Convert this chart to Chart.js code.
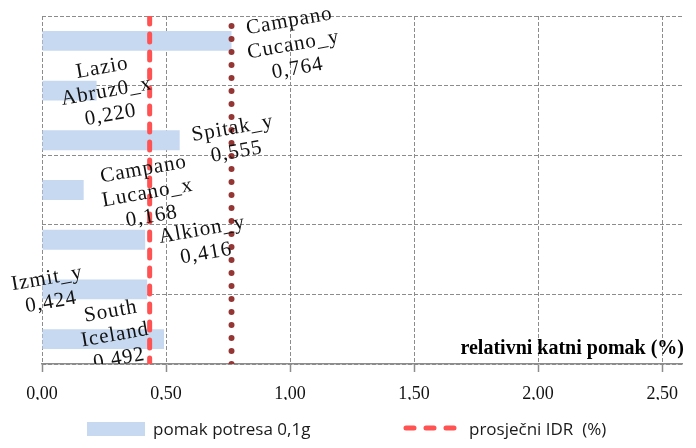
<!DOCTYPE html>
<html>
<head>
<meta charset="utf-8">
<script src="https://cdn.jsdelivr.net/npm/chart.js@4"></script>
<style>
  body { margin: 0; background: #fff; }
  #wrap { position: relative; width: 696px; height: 448px; }
  #chart { position: absolute; left: 0; top: 0; }
  .leg { position: absolute; font-family: "Open Sans", sans-serif; font-size: 17px; color: #1a1a1a; line-height: 20px; }
</style>
</head>
<body>
<div id="wrap">
  <canvas id="chart" width="696" height="448"></canvas>
  <div class="leg" style="left:87px; top:422px; width:58px; height:14px; background:#C6D9F1;"></div>
  <div class="leg" style="left:153px; top:419px;">pomak potresa 0,1g</div>
  <svg class="leg" style="left:403px; top:423px;" width="56" height="10">
    <line x1="3" y1="5" x2="53" y2="5" stroke="#FF5252" stroke-width="5" stroke-linecap="round" stroke-dasharray="8 12"></line>
  </svg>
  <div class="leg" style="left:469px; top:419px;">prosječni IDR&nbsp; (%)</div>
</div>
<script>
// ---------- DATA ----------
const categories = ["Campano Cucano_y", "Lazio Abruz0_x", "Spitak_y", "Campano Lucano_x", "Alkion_y", "Izmit_y", "South Iceland"];
const labelLines = [["Campano", "Cucano_y"], ["Lazio", "Abruz0_x"], ["Spitak_y"], ["Campano", "Lucano_x"], ["Alkion_y"], ["Izmit_y"], ["South", "Iceland"]];
const pomakValues = [0.764, 0.220, 0.555, 0.168, 0.416, 0.424, 0.492];
const prosjecniIDR = 0.434;
const maxPomak = 0.764;
const xMax = 2.58;
const axisTitle = "relativni katni pomak (%)";

// label block offsets from bar end (px), layout only
const labelOffsets = [[62, 4], [10, 1], [55, 0], [64, 3], [59, 2], [-98, 1], [-49, -4]];

const fmt = (v, d) => v.toFixed(d).replace(".", ",");
const serif = '"Liberation Serif", "Times New Roman", serif';

// ---------- LABELS + AXIS TITLE ----------
const labelPlugin = {
  id: "barLabels",
  afterDatasetsDraw(chart) {
    const ctx = chart.ctx;
    const xs = chart.scales.x, ys = chart.scales.y;
    const area = chart.chartArea;
    ctx.save();
    ctx.beginPath();
    ctx.rect(0, 0, chart.width, area.bottom);
    ctx.clip();
    ctx.font = "21px " + serif;
    ctx.letterSpacing = "1px";
    ctx.fillStyle = "#111";
    ctx.textAlign = "center";
    ctx.textBaseline = "middle";
    pomakValues.forEach((v, i) => {
      const lines = labelLines[i].concat([fmt(v, 3)]);
      const cx = xs.getPixelForValue(v) + labelOffsets[i][0];
      const cy = ys.getPixelForValue(i) + labelOffsets[i][1];
      ctx.save();
      ctx.translate(cx, cy);
      ctx.rotate(-10 * Math.PI / 180);
      const lh = 24;
      lines.forEach((t, k) => {
        ctx.fillText(t, 0, (k - (lines.length - 1) / 2) * lh);
      });
      ctx.restore();
    });
    ctx.restore();

    ctx.save();
    ctx.font = "bold 20px " + serif;
    ctx.fillStyle = "#000";
    ctx.textAlign = "right";
    ctx.textBaseline = "alphabetic";
    ctx.fillText(axisTitle, 684, area.bottom - 10);
    ctx.restore();
  }
};

const gridColor = "#8c8c8c";

new Chart(document.getElementById("chart"), {
  data: {
    labels: categories,
    datasets: [
      {
        type: "bar",
        label: "pomak potresa 0,1g",
        data: pomakValues,
        indexAxis: "y",
        xAxisID: "x",
        yAxisID: "y",
        backgroundColor: "#C6D9F1",
        barPercentage: 0.8,
        categoryPercentage: 0.5,
        order: 3
      },
      {
        type: "line",
        label: "prosječni IDR (%)",
        data: [{ x: prosjecniIDR, y: 5 }, { x: prosjecniIDR, y: 0 }],
        xAxisID: "x",
        yAxisID: "y2",
        borderColor: "#FF5252",
        borderWidth: 5,
        borderDash: [8, 10],
        borderCapStyle: "round",
        pointRadius: 0,
        fill: false,
        order: 1
      },
      {
        type: "line",
        label: "max",
        data: [{ x: maxPomak, y: 0 }, { x: maxPomak, y: 5 }],
        xAxisID: "x",
        yAxisID: "y2",
        borderColor: "#943634",
        borderWidth: 6,
        borderDash: [0, 13],
        borderCapStyle: "round",
        pointRadius: 0,
        fill: false,
        order: 2
      }
    ]
  },
  options: {
    responsive: false,
    animation: false,
    layout: { padding: { left: 42, right: 14, top: 16, bottom: 48 } },
    plugins: { legend: { display: false }, tooltip: { enabled: false } },
    scales: {
      x: {
        type: "linear",
        position: "bottom",
        min: 0,
        max: xMax,
        ticks: {
          stepSize: 0.5,
          includeBounds: false,
          padding: 11,
          color: "#111",
          font: { family: serif, size: 18 },
          callback: (v) => fmt(v, 2)
        },
        grid: { color: gridColor, lineWidth: 1, tickLength: 8, tickColor: "#8c8c8c", tickWidth: 1.5 },
        border: { display: true, color: "#8c8c8c", width: 1.5, dash: [4, 2] },
        afterFit: (s) => { s.height = 36; }
      },
      y: {
        type: "category",
        display: false,
        offset: true
      },
      y2: {
        type: "linear",
        position: "left",
        min: 0,
        max: 5,
        ticks: { display: false, stepSize: 1 },
        grid: { color: gridColor, lineWidth: 1, drawTicks: false },
        border: { display: false, dash: [4, 2] },
        afterFit: (s) => { s.width = 0; }
      }
    }
  },
  plugins: [labelPlugin]
});
</script>
</body>
</html>
